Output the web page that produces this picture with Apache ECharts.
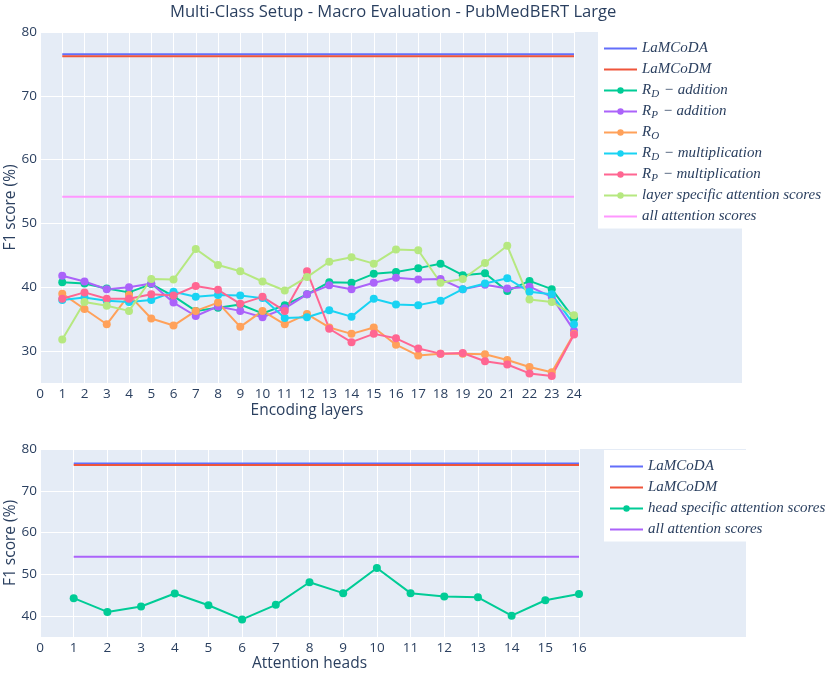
<!DOCTYPE html>
<html><head><meta charset="utf-8">
<script src="https://cdn.jsdelivr.net/npm/echarts@6/dist/echarts.min.js"></script>
<style>html,body{margin:0;padding:0;background:#fff}#c{width:830px;height:676px}</style>
</head><body><div id="c"></div>
<script>
// ---- data ----
const layers = [1,2,3,4,5,6,7,8,9,10,11,12,13,14,15,16,17,18,19,20,21,22,23,24];
const heads = [1,2,3,4,5,6,7,8,9,10,11,12,13,14,15,16];
const lamcodaF1 = 76.5;
const lamcodmF1 = 76.2;
const allAttentionF1 = 54.2;
const rdAddition = [40.8,40.6,39.8,39.2,40.5,38.6,36.3,36.8,37.3,35.9,37.2,38.9,40.8,40.7,42.1,42.4,43.0,43.7,41.9,42.2,39.4,41.0,39.7,35.1];
const rpAddition = [41.8,40.9,39.7,40.0,40.6,37.6,35.5,37.0,36.3,35.3,36.7,38.9,40.3,39.7,40.7,41.5,41.2,41.3,39.7,40.4,39.8,40.1,38.5,33.2];
const ro = [39.0,36.6,34.2,38.8,35.1,34.0,36.3,37.6,33.8,36.3,34.2,35.8,33.7,32.7,33.7,31.0,29.3,29.6,29.6,29.5,28.6,27.5,26.7,32.7];
const rdMultiplication = [38.0,38.4,37.9,37.7,38.0,39.3,38.5,38.8,38.7,38.3,35.2,35.3,36.4,35.4,38.2,37.3,37.2,37.9,39.7,40.6,41.4,39.3,38.9,34.2];
const rpMultiplication = [38.2,39.2,38.2,38.2,38.9,38.7,40.2,39.6,37.4,38.5,36.3,42.5,33.5,31.4,32.7,32.0,30.4,29.6,29.7,28.4,27.9,26.5,26.1,32.6];
const layerSpecific = [31.8,37.7,37.1,36.3,41.3,41.2,46.0,43.5,42.5,40.9,39.5,41.6,44.0,44.7,43.7,45.9,45.8,40.7,41.3,43.8,46.5,38.1,37.7,35.6];
const headSpecific = [44.3,41.0,42.3,45.4,42.6,39.2,42.7,48.1,45.5,51.5,45.5,44.7,44.5,40.1,43.8,45.3];
const topXTicks = [0,24];
const bottomXTicks = [0,16];

// ---- styling ----
const TXT = '#2a3f5f';
const FONT = '"Open Sans", "Noto Sans", sans-serif';
const BG = '#E5ECF6';

function pairs(xs, ys) { return xs.map((x, i) => [x, ys[i]]); }
function flat(xs, v) { return [[xs[0], v], [xs[xs.length - 1], v]]; }

function legendFmt(name) {
  name = name.trim();
  const m = name.match(/^R_([A-Z])(.*)$/);
  if (m) return '{i|R}{s|' + m[1] + '}{i|' + m[2] + '}';
  return '{i|' + name + '}{z|\u200b}';
}
const SERIF = '"Liberation Serif", serif';
const legendRich = {
  i: { fontFamily: SERIF, fontStyle: 'italic', fontSize: 15, color: TXT },
  s: { fontFamily: SERIF, fontStyle: 'italic', fontSize: 11, color: TXT, padding: [7, 1, 0, 0] },
  z: { fontFamily: SERIF, fontSize: 11, color: TXT, padding: [7, 0, 0, 0] }
};

function lineSeries(name, xi, data, color, sym) {
  return {
    type: 'line', name: name, xAxisIndex: xi, yAxisIndex: xi, data: data,
    symbol: sym ? 'circle' : 'none', symbolSize: 8, showSymbol: !!sym,
    lineStyle: { color: color, width: 2 }, itemStyle: { color: color },
    emphasis: { disabled: true }, animation: false
  };
}

function yAxis(gi, min, name) {
  return {
    type: 'value', gridIndex: gi, min: min, max: 80, interval: 5,
    name: name, nameLocation: 'middle', nameGap: 21, nameMoveOverlap: false,
    nameTextStyle: { color: TXT, fontFamily: FONT, fontSize: 15.5 },
    axisLine: { show: false }, axisTick: { show: false },
    axisLabel: { color: TXT, fontFamily: FONT, fontSize: 13.5, margin: 3,
      formatter: v => (v % 10 === 0 ? String(v) : '') },
    splitLine: { lineStyle: { color: ['rgba(0,0,0,0)', '#ffffff'], width: 1 } }
  };
}
function xAxis(gi, ticks, name, gap) {
  return {
    type: 'value', gridIndex: gi, min: ticks[0], max: ticks[1], interval: 1,
    name: name, nameLocation: 'middle', nameGap: gap, nameMoveOverlap: false,
    nameTextStyle: { color: TXT, fontFamily: FONT, fontSize: 15.5 },
    axisLine: { show: false }, axisTick: { show: false },
    axisLabel: { color: TXT, fontFamily: FONT, fontSize: 13.5, margin: 4 },
    splitLine: { lineStyle: { color: '#ffffff', width: 1 } }
  };
}
const hidden = gi => ({ type: 'value', gridIndex: gi, show: false, splitLine: { show: false } });

const topNames = ['LaMCoDA', 'LaMCoDM', 'R_D − addition', 'R_P − addition', 'R_O', 'R_D − multiplication', 'R_P − multiplication', 'layer specific attention scores', 'all attention scores'];
const botNames = ['LaMCoDA ', 'LaMCoDM ', 'head specific attention scores', 'all attention scores '];
const noMarker = ['LaMCoDA', 'LaMCoDM', 'all attention scores'];
const legendData = names => names.map(n => noMarker.indexOf(n.trim()) >= 0 ? { name: n, itemStyle: { opacity: 0 } } : { name: n });

const gridBase = { outerBoundsMode: 'none', containLabel: false };
const legendBase = {
  orient: 'vertical', backgroundColor: '#ffffff', padding: [9, 5, 3, 5],
  itemWidth: 33, itemHeight: 8, itemGap: 4.5,
  formatter: legendFmt, textStyle: { rich: legendRich }, selectedMode: false
};
const option = {
  backgroundColor: '#ffffff',
  animation: false,
  title: {
    text: 'Multi-Class Setup - Macro Evaluation - PubMedBERT Large',
    left: 165, top: -1,
    textStyle: { color: TXT, fontFamily: FONT, fontSize: 16.6, fontWeight: 'normal' }
  },
  grid: [
    Object.assign({ left: 40, top: 32, width: 702, height: 351, show: true, backgroundColor: BG, borderWidth: 0 }, gridBase),
    Object.assign({ left: 40, top: 32, width: 534, height: 351 }, gridBase),
    Object.assign({ left: 40, top: 449, width: 706, height: 188, show: true, backgroundColor: BG, borderWidth: 0 }, gridBase),
    Object.assign({ left: 40, top: 449, width: 539, height: 188 }, gridBase)
  ],
  xAxis: [hidden(0), xAxis(1, topXTicks, 'Encoding layers', 20), hidden(2), xAxis(3, bottomXTicks, 'Attention heads', 19)],
  yAxis: [hidden(0), yAxis(1, 25, 'F1 score (%)'), hidden(2), yAxis(3, 35, 'F1 score (%)')],
  legend: [
    Object.assign({ data: legendData(topNames), left: 598, top: 32 }, legendBase),
    Object.assign({ data: legendData(botNames), left: 604, top: 450 }, legendBase)
  ],
  series: [
    lineSeries(topNames[0], 1, flat(layers, lamcodaF1), '#636efa', false),
    lineSeries(topNames[1], 1, flat(layers, lamcodmF1), '#EF553B', false),
    lineSeries(topNames[2], 1, pairs(layers, rdAddition), '#00cc96', true),
    lineSeries(topNames[3], 1, pairs(layers, rpAddition), '#ab63fa', true),
    lineSeries(topNames[4], 1, pairs(layers, ro), '#FFA15A', true),
    lineSeries(topNames[5], 1, pairs(layers, rdMultiplication), '#19d3f3', true),
    lineSeries(topNames[6], 1, pairs(layers, rpMultiplication), '#FF6692', true),
    lineSeries(topNames[7], 1, pairs(layers, layerSpecific), '#B6E880', true),
    lineSeries(topNames[8], 1, flat(layers, allAttentionF1), '#FF97FF', false),
    lineSeries(botNames[0], 3, flat(heads, lamcodaF1), '#636efa', false),
    lineSeries(botNames[1], 3, flat(heads, lamcodmF1), '#EF553B', false),
    lineSeries(botNames[2], 3, pairs(heads, headSpecific), '#00cc96', true),
    lineSeries(botNames[3], 3, flat(heads, allAttentionF1), '#ab63fa', false)
  ]
};
const chart = echarts.init(document.getElementById('c'), null, { renderer: 'canvas' });
chart.setOption(option);
</script></body></html>
